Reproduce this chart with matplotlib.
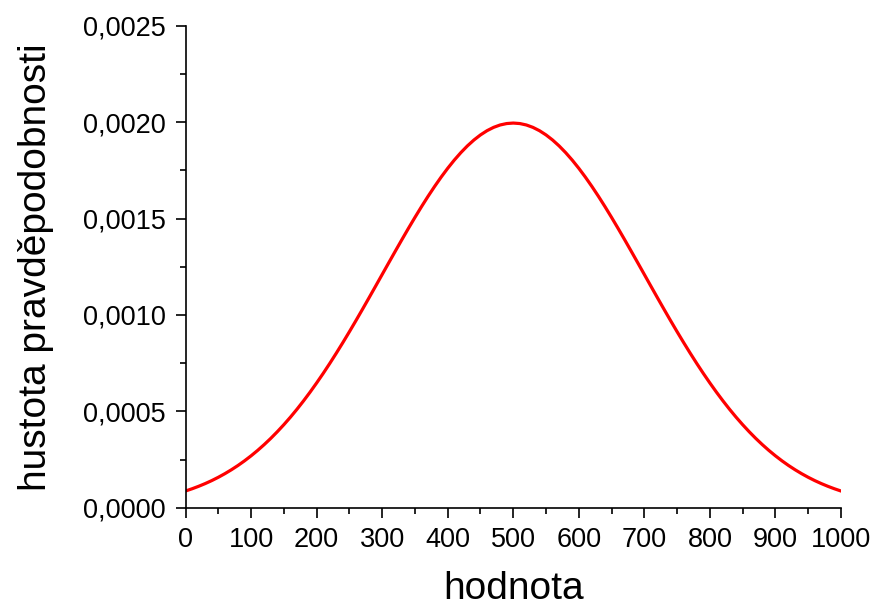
import matplotlib
matplotlib.use('Agg')
import matplotlib.pyplot as plt
from matplotlib.ticker import MultipleLocator, FuncFormatter

# values (every 10 units)
hodnota = list(range(0, 1001, 10))
hustota = [
    0.0000876, 0.0000992, 0.0001120, 0.0001261, 0.0001416, 0.0001587,
    0.0001774, 0.0001978, 0.0002199, 0.0002440, 0.0002700, 0.0002980,
    0.0003281, 0.0003603, 0.0003948, 0.0004314, 0.0004702, 0.0005113,
    0.0005546, 0.0006000, 0.0006476, 0.0006971, 0.0007486, 0.0008019,
    0.0008568, 0.0009132, 0.0009709, 0.0010297, 0.0010893, 0.0011494,
    0.0012099, 0.0012703, 0.0013304, 0.0013899, 0.0014485, 0.0015057,
    0.0015613, 0.0016149, 0.0016661, 0.0017147, 0.0017603, 0.0018026,
    0.0018413, 0.0018762, 0.0019069, 0.0019333, 0.0019552, 0.0019724,
    0.0019848, 0.0019922, 0.0019947,
    0.0019922, 0.0019848, 0.0019724, 0.0019552, 0.0019333, 0.0019069,
    0.0018762, 0.0018413, 0.0018026, 0.0017603, 0.0017147, 0.0016661,
    0.0016149, 0.0015613, 0.0015057, 0.0014485, 0.0013899, 0.0013304,
    0.0012703, 0.0012099, 0.0011494, 0.0010893, 0.0010297, 0.0009709,
    0.0009132, 0.0008568, 0.0008019, 0.0007486, 0.0006971, 0.0006476,
    0.0006000, 0.0005546, 0.0005113, 0.0004702, 0.0004314, 0.0003948,
    0.0003603, 0.0003281, 0.0002980, 0.0002700, 0.0002440, 0.0002199,
    0.0001978, 0.0001774, 0.0001587, 0.0001416, 0.0001261, 0.0001120,
    0.0000992, 0.0000876,
]

plt.rcParams['font.family'] = ['Liberation Sans', 'DejaVu Sans']

fig = plt.figure(figsize=(8.76, 6.09), dpi=100)
ax = fig.add_axes([0.2118, 0.166, 0.7482, 0.792])

ax.plot(hodnota, hustota, color='#ff0000', linewidth=2.3)

ax.set_xlim(0, 1000)
ax.set_ylim(0, 0.0025)
ax.xaxis.set_major_locator(MultipleLocator(100))
ax.xaxis.set_minor_locator(MultipleLocator(50))
ax.yaxis.set_major_locator(MultipleLocator(0.0005))
ax.yaxis.set_minor_locator(MultipleLocator(0.00025))
ax.yaxis.set_major_formatter(FuncFormatter(lambda v, p: f"{v:.4f}".replace('.', ',')))

for s in ['top', 'right']:
    ax.spines[s].set_visible(False)
for s in ['left', 'bottom']:
    ax.spines[s].set_linewidth(1.2)

ax.tick_params(which='major', direction='out', length=7, width=1.2, labelsize=19.5, pad=7)
ax.tick_params(which='minor', direction='out', length=4, width=1.2)

ax.set_xlabel('hodnota', fontsize=28, labelpad=13)
ax.set_ylabel('hustota pravděpodobnosti', fontsize=28, labelpad=21)

fig.savefig('out.png', dpi=100)
